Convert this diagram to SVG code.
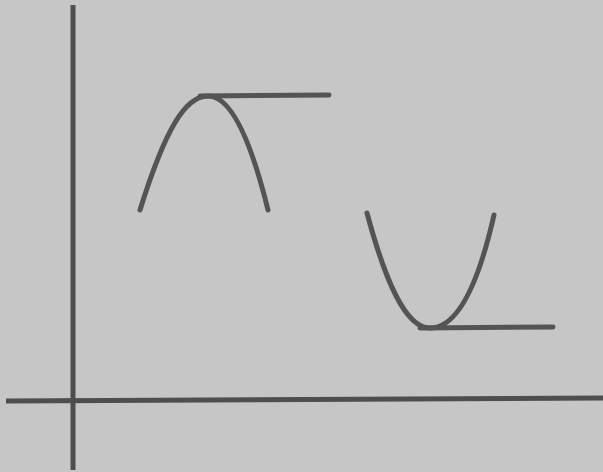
<svg xmlns="http://www.w3.org/2000/svg" width="603" height="472" viewBox="0 0 603 472">
<style>
.ln{fill:none;stroke:#545454;stroke-width:5;stroke-linecap:round}
.ax{fill:none;stroke:#4e4e4e;stroke-width:5}
</style>
<rect x="0" y="0" width="603" height="472" fill="#c6c6c6"/>
<g id="axes">
<line class="ax" x1="73" y1="5" x2="73" y2="470"/>
<line class="ax" x1="6" y1="401" x2="603" y2="398"/>
</g>
<g id="max-curve">
<path class="ln" d="M140,210 C165,130 185,96 208,96 C232,96 252,145 268,210"/>
<line class="ln" x1="200" y1="96" x2="329" y2="95"/>
</g>
<g id="min-curve">
<path class="ln" d="M367,213 C385,280 405,328 430,328 C456,328 477,290 494,215"/>
<line class="ln" x1="420" y1="328" x2="553" y2="327"/>
</g>
</svg>
